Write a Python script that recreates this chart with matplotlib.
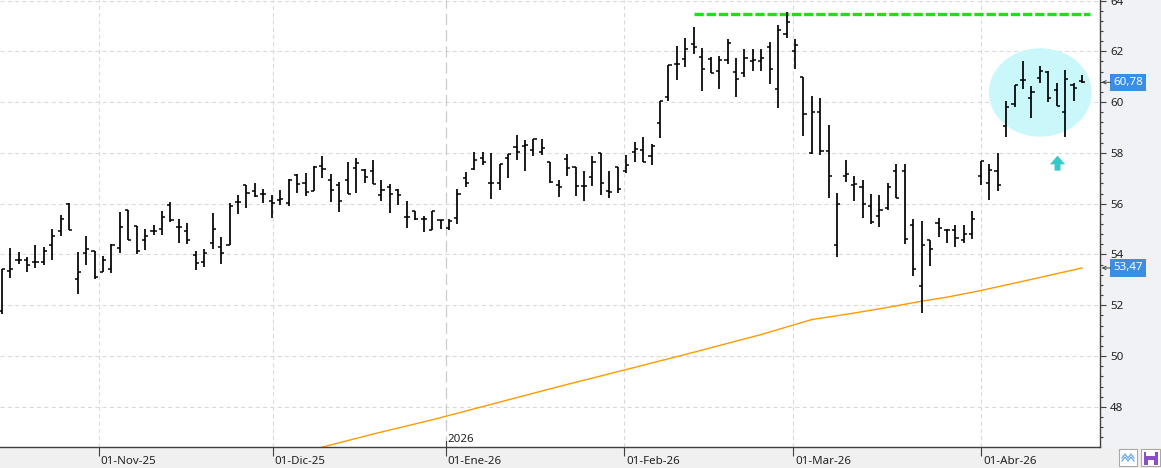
import numpy as np
import matplotlib
matplotlib.use('Agg')
import matplotlib.pyplot as plt
from matplotlib.patches import Ellipse, Polygon, Rectangle
from matplotlib.ticker import FixedLocator, MultipleLocator

plt.rcParams['font.family'] = ['Noto Sans', 'DejaVu Sans']

# ---------------- data ----------------
opens = [51.77, 53.36, 53.80, 53.80, 53.71, 53.69, 54.36, 54.92, 56.00, 53.04,
         54.05, 54.13, 53.33, 53.44, 54.24, 55.76, 55.11, 54.56, 54.91, 55.00,
         55.96, 55.07, 54.92, 53.97, 53.69, 54.44, 54.31, 54.36, 56.08, 56.73,
         56.48, 56.39, 56.09, 56.16, 56.03, 57.11, 56.82, 56.50, 57.50, 56.95,
         56.72, 56.95, 57.41, 57.31, 57.27, 56.33, 56.65, 56.55, 55.48, 55.70,
         55.38, 54.97, 55.36, 55.04, 55.43, 57.01, 57.37, 57.80, 56.80, 56.82,
         57.80, 58.22, 58.29, 58.12, 58.05, 57.63, 56.75, 57.76, 57.43, 56.71,
         57.04, 58.00, 56.51, 57.43, 57.30, 58.03, 58.12, 57.88, 59.17, 60.22,
         61.51, 61.70, 62.30, 61.78, 61.71, 61.24, 61.67, 61.20, 61.14, 61.63,
         61.61, 62.17, 60.51, 62.70, 62.00, 60.99, 58.00, 59.61, 58.06, 54.36,
         57.08, 56.72, 56.66, 55.90, 55.50, 55.83, 57.28, 57.28, 55.15, 52.75,
         54.56, 55.25, 54.98, 54.98, 54.56, 54.82, 57.08, 56.83, 57.28, 59.06,
         59.93, 60.88, 60.15, 60.94, 61.17, 60.48, 59.60, 60.68, 60.84]
highs = [53.44, 54.24, 54.09, 53.91, 54.37, 54.31, 55.00, 55.57, 56.03, 54.09,
         54.72, 54.13, 53.95, 54.40, 55.69, 55.76, 55.11, 55.00, 55.16, 55.71,
         56.08, 55.40, 55.24, 54.13, 54.20, 55.64, 54.67, 56.04, 56.36, 56.75,
         56.81, 56.59, 56.33, 56.55, 56.98, 57.15, 57.22, 57.48, 57.86, 57.18,
         56.85, 57.66, 57.80, 57.37, 57.73, 56.94, 56.76, 56.59, 56.09, 55.70,
         55.50, 55.70, 55.36, 55.39, 56.58, 57.24, 58.05, 58.05, 58.00, 57.57,
         57.96, 58.71, 58.49, 58.55, 58.55, 57.63, 56.93, 57.96, 57.43, 57.30,
         57.86, 58.00, 57.30, 57.43, 57.92, 58.42, 58.62, 58.36, 60.03, 61.47,
         62.22, 62.53, 62.96, 62.13, 61.78, 61.83, 62.50, 61.74, 62.09, 62.09,
         62.09, 62.36, 63.05, 63.55, 62.47, 60.99, 60.23, 60.18, 59.09, 56.42,
         57.71, 57.09, 56.92, 56.37, 56.33, 56.83, 57.55, 57.55, 55.39, 55.31,
         54.59, 55.45, 55.02, 55.15, 55.18, 55.70, 57.67, 57.58, 57.98, 60.05,
         60.68, 61.63, 60.64, 61.43, 61.21, 60.75, 61.27, 60.75, 61.08]
lows = [51.64, 53.07, 53.63, 53.32, 53.47, 53.60, 53.79, 54.71, 54.96, 52.43,
        53.60, 53.04, 53.33, 53.27, 54.07, 54.56, 54.03, 54.19, 54.75, 54.77,
        55.27, 54.44, 54.40, 53.40, 53.51, 54.20, 53.64, 54.36, 55.60, 55.83,
        56.26, 56.04, 55.44, 55.96, 55.91, 56.43, 56.30, 56.50, 57.00, 56.07,
        55.67, 56.37, 56.42, 56.82, 56.78, 56.09, 55.65, 55.96, 55.06, 55.35,
        54.90, 54.97, 55.00, 54.97, 55.20, 56.64, 57.33, 57.53, 56.18, 56.54,
        57.01, 57.72, 57.28, 57.89, 57.93, 56.82, 56.25, 57.08, 56.29, 56.09,
        56.71, 56.36, 56.22, 56.41, 57.20, 57.66, 57.66, 57.53, 58.58, 60.03,
        60.88, 61.37, 61.89, 60.42, 61.14, 60.53, 61.50, 60.22, 60.97, 61.21,
        61.21, 60.71, 59.76, 62.53, 61.29, 58.67, 57.97, 57.93, 56.23, 53.90,
        56.86, 56.11, 55.44, 55.22, 55.08, 55.74, 56.24, 54.43, 53.15, 51.70,
        53.55, 54.69, 54.45, 54.30, 54.47, 54.62, 56.75, 56.16, 56.50, 58.61,
        59.80, 60.51, 59.39, 60.75, 60.02, 59.86, 58.64, 60.06, 60.75]
closes = [53.44, 53.44, 53.80, 53.60, 53.71, 54.12, 54.72, 55.39, 54.96, 53.33,
          54.20, 53.12, 53.79, 54.37, 55.09, 54.56, 54.12, 54.73, 54.91, 55.49,
          55.36, 55.07, 54.56, 53.67, 54.04, 55.00, 54.04, 55.89, 56.06, 56.41,
          56.29, 56.39, 56.03, 56.20, 56.95, 56.76, 56.46, 57.44, 57.37, 56.55,
          56.10, 56.37, 57.59, 57.07, 56.78, 56.55, 56.37, 56.33, 55.48, 55.41,
          55.38, 55.70, 55.36, 55.33, 56.38, 56.80, 57.72, 57.63, 56.80, 57.57,
          57.96, 58.03, 58.33, 58.55, 58.20, 56.84, 56.67, 57.41, 56.68, 56.71,
          57.66, 56.80, 56.45, 56.58, 57.51, 58.16, 57.66, 58.28, 60.03, 61.47,
          61.51, 62.09, 62.17, 61.30, 61.14, 61.67, 62.33, 60.91, 61.74, 61.67,
          61.74, 61.30, 62.83, 63.16, 62.25, 59.55, 59.61, 58.06, 57.08, 56.00,
          57.16, 56.79, 55.98, 55.28, 55.77, 56.66, 56.24, 54.60, 53.44, 54.36,
          54.23, 55.06, 54.98, 54.66, 54.82, 55.41, 57.67, 57.32, 56.75, 59.80,
          60.68, 60.88, 60.39, 61.23, 60.15, 59.86, 60.90, 60.55, 60.78]

# moving average read at some bars (bar index, value)
ma_idx = [37, 44, 51, 58, 66, 74, 82, 90, 96, 100, 104, 109, 112, 116, 122, 128]
ma_val = [46.33, 46.93, 47.49, 48.10, 48.80, 49.47, 50.15, 50.85, 51.44, 51.64,
          51.86, 52.16, 52.32, 52.58, 53.02, 53.47]

month_pos = [11.49, 32.09, 52.62, 73.77, 93.78, 116.08]
month_labels = ['01-Nov-25', '01-Dic-25', '01-Ene-26', '01-Feb-26', '01-Mar-26', '01-Abr-26']
year_label = '2026'
year_pos = 52.62
resistance = 63.47
resistance_from = 82.0
last_label = '60,78'
last_value = 60.78
ma_label = '53,47'
ma_last = 53.47
y_ticks = [48, 50, 52, 54, 56, 58, 60, 62, 64]

# ---------------- figure ----------------
W, H = 1161, 468
fig = plt.figure(figsize=(W / 100, H / 100), dpi=100, facecolor='#f0f2f5')
fig.patches.append(Rectangle((0, 0), 1, 21 / H, transform=fig.transFigure,
                             fc='#f0f0f0', ec='none', zorder=-5))
ax = fig.add_axes([0, 21 / H, 1100 / W, 447 / H])
ax.set_facecolor('white')
ax.set_xlim(-0.2, 130.13)
ax.set_ylim(46.42, 64.02)

# grid
for yv in y_ticks:
    ax.axhline(yv, color='#d9d9d9', lw=0.75, ls=(0, (4, 3)), zorder=1)
for p in month_pos:
    if p == year_pos:
        ax.axvline(p, color='#cccccc', lw=0.9, ls=(0, (9, 4)), zorder=1)
    else:
        ax.axvline(p, color='#d9d9d9', lw=0.75, ls=(0, (4, 3)), zorder=1)

# highlight ellipse & arrow
ax.add_patch(Ellipse((123.06, 60.38), 12.17, 3.48, fc='#c9f7fa', ec='none', zorder=2))
ax.add_patch(Polygon([(125.1, 57.89), (126.0, 57.55), (125.45, 57.55), (125.45, 57.30),
                      (124.75, 57.30), (124.75, 57.55), (124.2, 57.55)],
                     closed=True, fc='#35c9cc', ec='none', zorder=2))

# moving average
ax.plot(ma_idx, ma_val, color='#ff9a00', lw=1.0, zorder=2)

# resistance line
ax.hlines(resistance, resistance_from, 128.9, color='#14e614', lw=2.4,
          linestyles=[(0, (2.8, 0.85))], zorder=2)

# OHLC bars
x = np.arange(len(closes))
ax.vlines(x, lows, highs, color='black', lw=1.25, zorder=3)
ax.hlines(opens, x - 0.37, x, color='black', lw=1.1, zorder=3)
ax.hlines(closes, x, x + 0.37, color='black', lw=1.1, zorder=3)

# spines
for s in ['top', 'left']:
    ax.spines[s].set_visible(False)
for s in ['right', 'bottom']:
    ax.spines[s].set_color('#404040')
    ax.spines[s].set_linewidth(1.0)

# y axis right
ax.yaxis.tick_right()
ax.yaxis.set_major_locator(FixedLocator(y_ticks))
ax.yaxis.set_minor_locator(MultipleLocator(0.4))
ax.tick_params(axis='y', which='major', length=4.3, width=0.8, color='#404040',
               pad=3, labelsize=8.3, labelcolor='#222222')
ax.tick_params(axis='y', which='minor', length=2.4, width=0.8, color='#404040')

# x axis
ax.set_xticks(month_pos)
ax.set_xticklabels([''] * len(month_pos))
ax.tick_params(axis='x', which='major', length=6.5, width=0.8, color='#404040')
for p, lab in zip(month_pos, month_labels):
    ax.annotate(lab, xy=(p, 0), xycoords=('data', 'axes fraction'),
                xytext=(2, -14), textcoords='offset pixels', ha='left', va='center',
                fontsize=8.3, color='#222222', annotation_clip=False)
ax.annotate(year_label, xy=(year_pos, 0), xycoords=('data', 'axes fraction'),
            xytext=(2, 7), textcoords='offset pixels', ha='left', va='center',
            fontsize=8.3, color='#222222')
ax.plot([year_pos, year_pos], [46.42, 46.42 + 6 / 25.4], color='#404040', lw=0.8,
        zorder=4, clip_on=False)

# value labels on the axis
for val, lab in [(last_value, last_label), (ma_last, ma_label)]:
    ax.annotate(lab, xy=(1, val), xycoords=('axes fraction', 'data'),
                xytext=(13, 0), textcoords='offset pixels', ha='left', va='center',
                fontsize=8.3, color='white', annotation_clip=False,
                bbox=dict(boxstyle='square,pad=0.28', fc='#3b8ee6', ec='none'))
    ax.annotate('', xy=(1.0015, val), xycoords=('axes fraction', 'data'),
                xytext=(9, 0), textcoords='offset pixels', annotation_clip=False,
                arrowprops=dict(arrowstyle='->', color='#404040', lw=0.7,
                                shrinkA=0, shrinkB=0, mutation_scale=6))

# bottom-right icons (pixel overlay)
ov = fig.add_axes([0, 0, 1, 1], facecolor='none')
ov.set_xlim(0, W)
ov.set_ylim(H, 0)
ov.axis('off')
ov.add_patch(Rectangle((1119, 449), 18, 17, fc='white', ec='#a8a8a8', lw=0.8))
ov.plot([1122, 1125, 1128, 1131, 1134], [458, 454, 458, 454, 458], color='#6aa7e0', lw=0.9)
ov.plot([1122, 1125, 1128, 1131, 1134], [461, 457, 461, 457, 461], color='#6aa7e0', lw=0.9)
ov.add_patch(Rectangle((1141, 449), 19, 17, fc='white', ec='#a8a8a8', lw=0.8))
ov.add_patch(Rectangle((1143.5, 451.5), 14, 13, fc='#8a4fc8', ec='none'))
ov.add_patch(Rectangle((1146, 451.5), 9, 4.5, fc='white', ec='none'))
ov.add_patch(Rectangle((1147.5, 459.5), 6, 5, fc='white', ec='none'))

fig.savefig('out.png', dpi=100, facecolor=fig.get_facecolor())
